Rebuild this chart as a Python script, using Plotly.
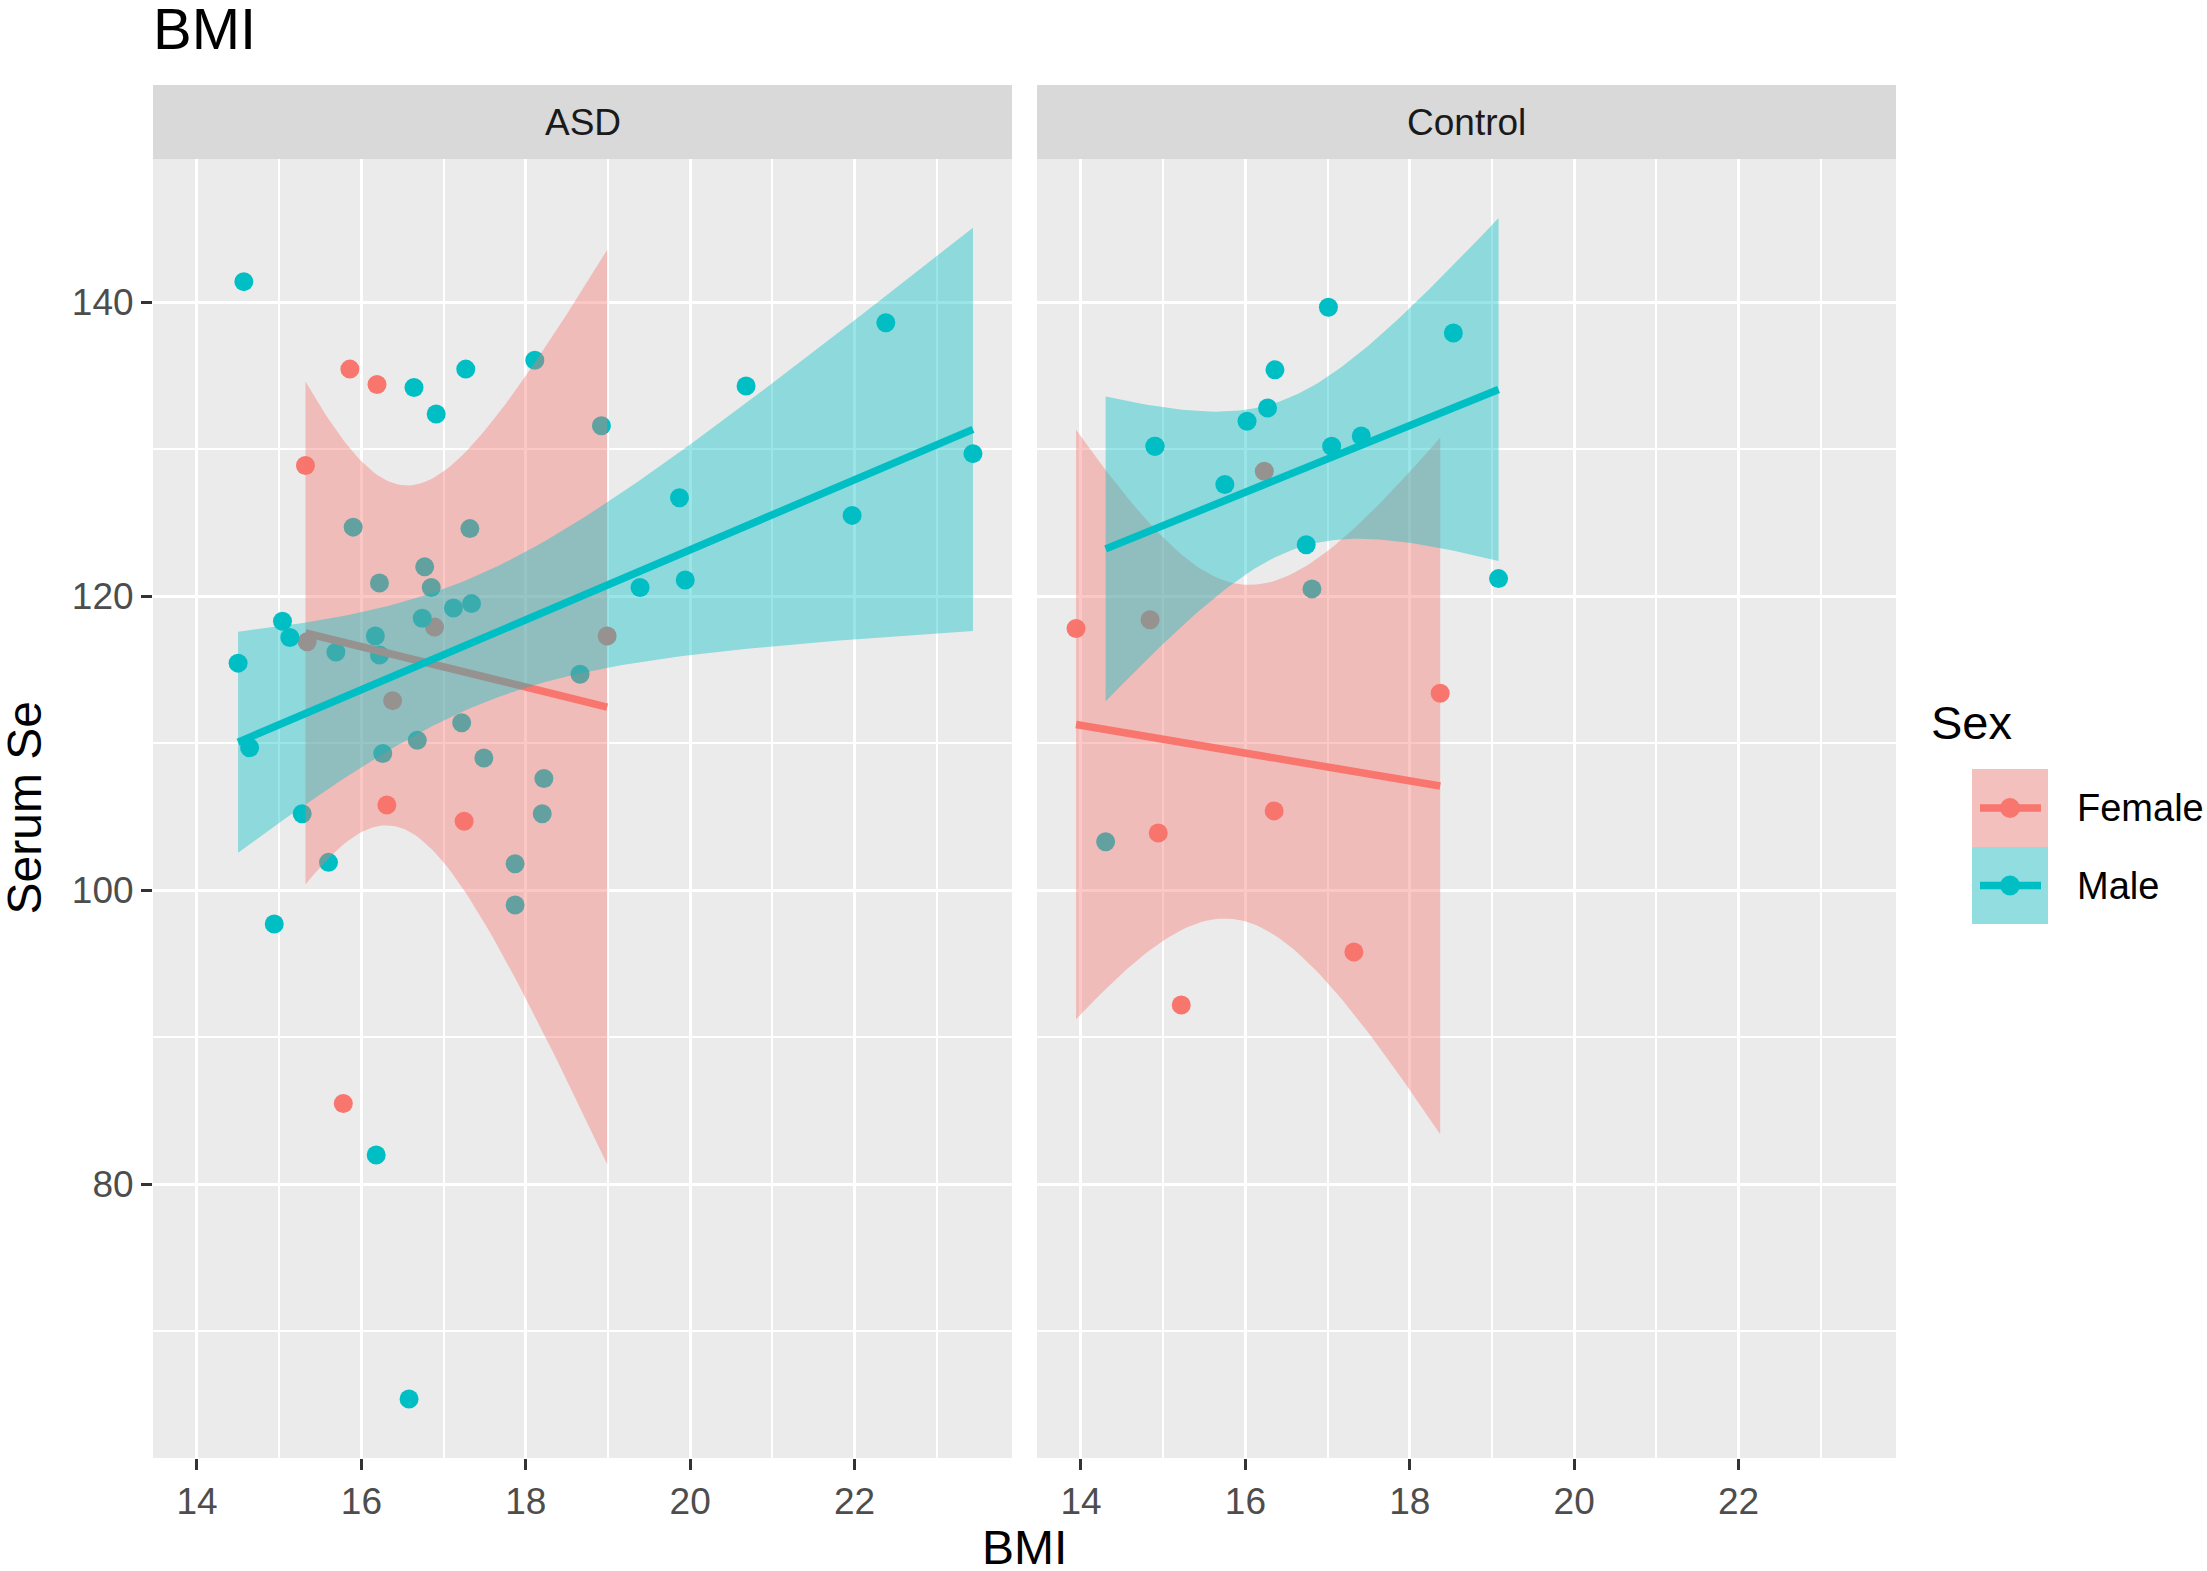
import math
import numpy as np
import plotly.graph_objects as go

# ---- data ----
facets = ["ASD", "Control"]
sexes = ["Female", "Male"]

asd_female_bmi = [15.32, 15.34, 15.78, 15.86, 16.19, 16.31, 16.38, 16.89, 17.25, 18.99]
asd_female_se = [128.9, 116.9, 85.5, 135.45, 134.4, 105.8, 112.9, 117.9, 104.7, 117.3]

asd_male_bmi = [14.50, 14.57, 14.64, 14.94, 15.04, 15.13, 15.28, 15.60, 15.69, 15.90,
                16.17, 16.18, 16.22, 16.22, 16.26, 16.58, 16.64, 16.68, 16.74, 16.77,
                16.85, 16.91, 17.12, 17.22, 17.27, 17.32, 17.34, 17.49, 17.87, 17.87,
                18.11, 18.20, 18.22, 18.66, 18.92, 19.39, 19.87, 19.94, 20.68, 21.97,
                22.38, 23.44]
asd_male_se = [115.45, 141.4, 109.7, 97.7, 118.3, 117.2, 105.2, 101.9, 116.2, 124.7,
               117.3, 82.0, 120.9, 116.0, 109.3, 65.4, 134.2, 110.2, 118.5, 122.0,
               120.6, 132.4, 119.2, 111.4, 135.45, 124.6, 119.5, 109.0, 101.8, 99.0,
               136.05, 105.2, 107.6, 114.7, 131.6, 120.6, 126.7, 121.1, 134.3, 125.5,
               138.6, 129.7]

ctl_female_bmi = [13.94, 14.84, 14.94, 15.22, 16.23, 16.35, 17.32, 18.37]
ctl_female_se = [117.8, 118.4, 103.9, 92.2, 128.5, 105.4, 95.8, 113.4]

# two children sit on the same spot at 14.9 / 130.2
ctl_male_bmi = [14.30, 14.90, 14.90, 15.75, 16.02, 16.27, 16.36, 16.74, 16.81, 17.01,
                17.05, 17.41, 18.53, 19.08]
ctl_male_se = [103.3, 130.2, 130.2, 127.6, 131.9, 132.8, 135.4, 123.5, 120.5, 139.66,
               130.2, 130.9, 137.9, 121.2]

x_ticks = [14, 16, 18, 20, 22]
y_ticks = [80, 100, 120, 140]

groups = {
    ("ASD", "Female"): (asd_female_bmi, asd_female_se),
    ("ASD", "Male"): (asd_male_bmi, asd_male_se),
    ("Control", "Female"): (ctl_female_bmi, ctl_female_se),
    ("Control", "Male"): (ctl_male_bmi, ctl_male_se),
}

line_col = {"Female": "#F8766D", "Male": "#00BFC4"}
fill_col = {"Female": "rgba(248,118,109,0.4)", "Male": "rgba(0,191,196,0.4)"}
FONT = "Liberation Sans, Arial, sans-serif"


def t_quantile(df, p=0.975):
    c = math.exp(math.lgamma((df + 1) / 2) - math.lgamma(df / 2)) / math.sqrt(df * math.pi)

    def cdf(t):
        xs = np.linspace(0, t, 4001)
        return 0.5 + np.trapezoid(c * (1 + xs ** 2 / df) ** (-(df + 1) / 2), xs)

    lo, hi = 0.0, 30.0
    for _ in range(60):
        mid = (lo + hi) / 2
        if cdf(mid) < p:
            lo = mid
        else:
            hi = mid
    return (lo + hi) / 2


def lm_band(x, y, n=80):
    # same as geom_smooth(method = "lm"), 95% band
    x = np.asarray(x, float)
    y = np.asarray(y, float)
    b, a = np.polyfit(x, y, 1)
    xs = np.linspace(x.min(), x.max(), n)
    fit = a + b * xs
    dof = len(x) - 2
    s = math.sqrt(np.sum((y - (a + b * x)) ** 2) / dof)
    sxx = np.sum((x - x.mean()) ** 2)
    se = s * np.sqrt(1 / len(x) + (xs - x.mean()) ** 2 / sxx)
    t = t_quantile(dof)
    return xs, fit, fit - t * se, fit + t * se


bands = {k: lm_band(*v) for k, v in groups.items()}

all_x = [v for g in groups.values() for v in g[0]]
all_y = [v for g in groups.values() for v in g[1]]
all_y += [v for b in bands.values() for v in list(b[2]) + list(b[3])]
xpad = 0.05 * (max(all_x) - min(all_x))
ypad = 0.05 * (max(all_y) - min(all_y))
x_range = [min(all_x) - xpad, max(all_x) + xpad]
y_range = [min(all_y) - ypad, max(all_y) + ypad]

# ---- figure ----
W, H = 2207, 1571


def px(xo):
    return xo / W


def py(yo):
    return 1 - yo / H


fig = go.Figure()
axes = {"ASD": ("x", "y"), "Control": ("x2", "y2")}

for facet in facets:
    xa, ya = axes[facet]
    for sex in sexes:
        bx, by = groups[(facet, sex)]
        fig.add_trace(go.Scatter(
            x=bx, y=by, mode="markers", xaxis=xa, yaxis=ya, showlegend=False,
            marker=dict(size=19, color=line_col[sex], line=dict(width=0)),
        ))
    for sex in sexes:
        xs, fit, lo, hi = bands[(facet, sex)]
        fig.add_trace(go.Scatter(
            x=list(xs) + list(xs[::-1]), y=list(hi) + list(lo[::-1]),
            mode="lines", fill="toself", fillcolor=fill_col[sex],
            line=dict(width=0, color="rgba(0,0,0,0)"),
            xaxis=xa, yaxis=ya, showlegend=False, hoverinfo="skip",
        ))
        fig.add_trace(go.Scatter(
            x=xs, y=fit, mode="lines", xaxis=xa, yaxis=ya, showlegend=False,
            line=dict(width=7.5, color=line_col[sex]),
        ))

tickfont = dict(family=FONT, size=37, color="#4D4D4D")
xcommon = dict(
    range=x_range, tickvals=x_ticks, ticks="outside", ticklen=11, tickwidth=3,
    tickcolor="#333333", tickfont=tickfont, showgrid=True, gridcolor="white",
    gridwidth=3.2, zeroline=False, showline=False,
    minor=dict(dtick=1, tick0=0, showgrid=True, gridcolor="white", gridwidth=1.6),
)
ycommon = dict(
    range=y_range, tickvals=y_ticks, ticks="outside", ticklen=11, tickwidth=3,
    tickcolor="#333333", tickfont=tickfont, showgrid=True, gridcolor="white",
    gridwidth=3.2, zeroline=False, showline=False,
    minor=dict(dtick=10, tick0=0, showgrid=True, gridcolor="white", gridwidth=1.6),
)

ydom = [py(1458), py(159)]
fig.update_layout(
    width=W, height=H, margin=dict(l=0, r=0, t=0, b=0),
    paper_bgcolor="white", plot_bgcolor="#EBEBEB",
    xaxis=dict(domain=[px(153), px(1012)], anchor="y", **xcommon),
    xaxis2=dict(domain=[px(1037), px(1896)], anchor="y2", **xcommon),
    yaxis=dict(domain=ydom, anchor="x", **ycommon),
    yaxis2=dict(domain=ydom, anchor="x2", showticklabels=False,
                **{k: v for k, v in ycommon.items() if k != "ticks"}, ticks=""),
    font=dict(family=FONT),
)

shapes = []
annotations = []

# facet strips
for facet, (x0, x1) in zip(facets, [(153, 1012), (1037, 1896)]):
    shapes.append(dict(type="rect", xref="paper", yref="paper", x0=px(x0), x1=px(x1),
                       y0=py(159), y1=py(85), fillcolor="#D9D9D9", line=dict(width=0),
                       layer="below"))
    annotations.append(dict(text=facet, xref="paper", yref="paper", x=(px(x0) + px(x1)) / 2,
                            y=(py(159) + py(85)) / 2, showarrow=False, xanchor="center",
                            yanchor="middle", font=dict(family=FONT, size=37, color="#1A1A1A")))

# titles
annotations.append(dict(text="BMI", xref="paper", yref="paper", x=px(151), y=py(28),
                        xanchor="left", yanchor="middle", showarrow=False,
                        font=dict(family=FONT, size=58, color="black")))
annotations.append(dict(text="BMI", xref="paper", yref="paper", x=(px(153) + px(1896)) / 2,
                        y=py(1547), xanchor="center", yanchor="middle", showarrow=False,
                        font=dict(family=FONT, size=48, color="black")))
annotations.append(dict(text="Serum Se", xref="paper", yref="paper", x=px(24),
                        y=(py(159) + py(1458)) / 2, xanchor="center", yanchor="middle",
                        textangle=-90, showarrow=False,
                        font=dict(family=FONT, size=48, color="black")))

# legend drawn by hand (ggplot style key: ribbon fill + line + point)
annotations.append(dict(text="Sex", xref="paper", yref="paper", x=px(1929), y=py(722),
                        xanchor="left", yanchor="middle", showarrow=False,
                        font=dict(family=FONT, size=47, color="black")))
for sex, (k0, k1) in zip(sexes, [(769, 847), (847, 924)]):
    cy = (k0 + k1) / 2
    shapes.append(dict(type="rect", xref="paper", yref="paper", x0=px(1972), x1=px(2048),
                       y0=py(k1), y1=py(k0), fillcolor="#F2F2F2", line=dict(width=0)))
    shapes.append(dict(type="rect", xref="paper", yref="paper", x0=px(1972), x1=px(2048),
                       y0=py(k1), y1=py(k0), fillcolor=fill_col[sex], line=dict(width=0)))
    shapes.append(dict(type="line", xref="paper", yref="paper", x0=px(1980), x1=px(2041),
                       y0=py(cy), y1=py(cy), line=dict(color=line_col[sex], width=7.5)))
    shapes.append(dict(type="circle", xref="paper", yref="paper", x0=px(2010 - 10),
                       x1=px(2010 + 10), y0=py(cy + 10), y1=py(cy - 10),
                       fillcolor=line_col[sex], line=dict(width=0)))
    annotations.append(dict(text=sex, xref="paper", yref="paper", x=px(2075), y=py(cy),
                            xanchor="left", yanchor="middle", showarrow=False,
                            font=dict(family=FONT, size=38, color="black")))

fig.update_layout(shapes=shapes, annotations=annotations)
fig.write_html(
    "out.html",
    config={"displayModeBar": False},
    post_script="document.body.style.margin='0';document.body.style.overflow='hidden';",
)
